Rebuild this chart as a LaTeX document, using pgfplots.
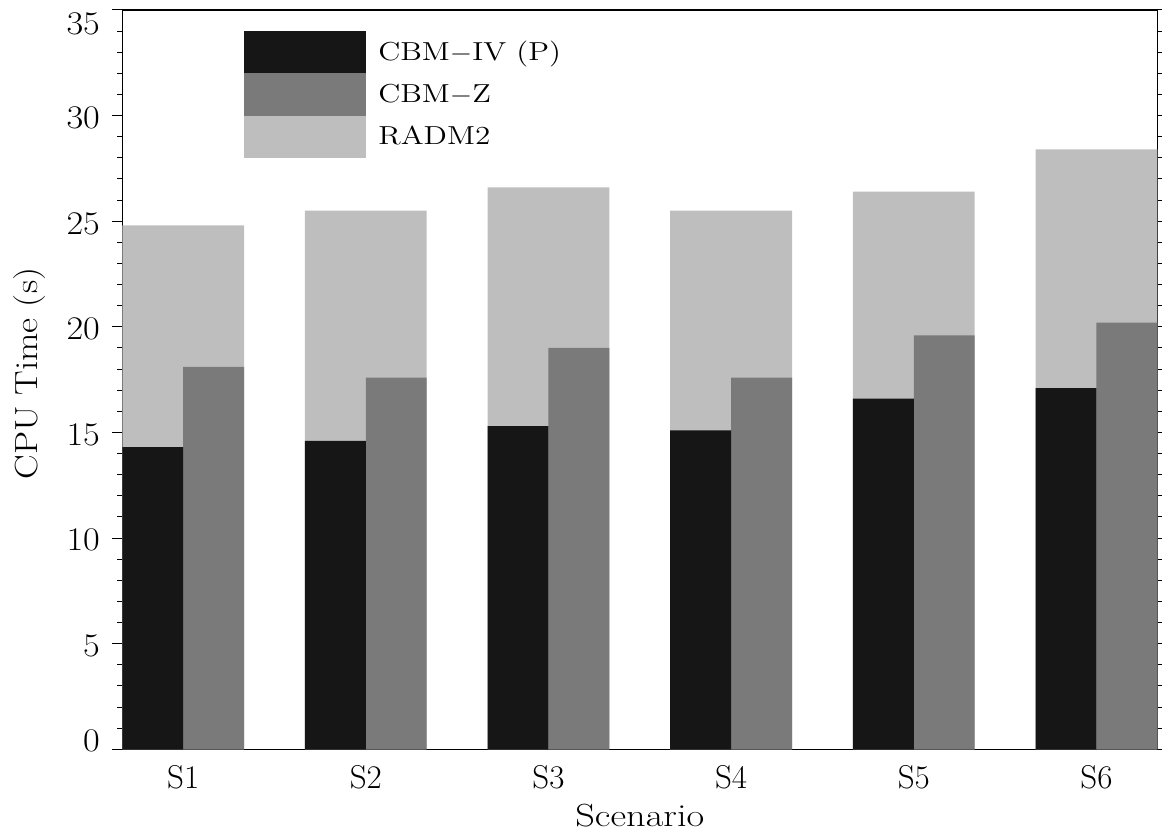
\documentclass[border=0pt]{standalone}
\usepackage{pgfplots}
\pgfplotsset{compat=1.18}

\definecolor{cbmiv}{HTML}{161616}
\definecolor{cbmz}{HTML}{7A7A7A}
\definecolor{radm}{HTML}{BEBEBE}

% horizontally widened text
\newcommand\hs[2][1.1]{\scalebox{#1}[1]{#2}}
\newcommand\tk[2][0pt]{\raisebox{#1}{\hs{#2}}}

\begin{document}
\begin{tikzpicture}
\begin{axis}[
  name=ax,
  scale only axis,
  width=517.5pt, height=369.65pt,
  xmin=0.6667, xmax=6.3333,
  ymin=0, ymax=35,
  axis line style={line width=0.6pt},
  every tick/.style={line width=0.5pt, black},
  tick align=outside,
  major tick length=5pt,
  minor tick length=2.5pt,
  xtick={1,...,6},
  xticklabels={S1,S2,S3,S4,S5,S6},
  x tick style={draw=none},
  xticklabel style={font=\fontsize{16.5}{19}\selectfont, anchor=north, inner sep=0pt, yshift=-2.8pt},
  ytick={0,5,...,35},
  yticklabels={\tk[5.5pt]{0},\tk{5},\tk{10},\tk{15},\tk{20},\tk{25},\tk{30},\tk[-5.75pt]{35}},
  minor y tick num=4,
  yticklabel style={font=\fontsize{16.5}{19}\selectfont, anchor=base east, inner sep=0pt, xshift=-6pt, yshift=-6.4pt},
  xlabel={\hs[1.2]{Scenario}},
  xlabel style={font=\fontsize{16}{19}\selectfont, at={(axis description cs:0.5,0)}, anchor=north, inner sep=0pt, yshift=-27pt},
  ylabel={\hs[1.15]{CPU Time (s)}},
  ylabel style={font=\fontsize{16}{19}\selectfont, at={(axis description cs:-0.0821,0.3643)}, anchor=base west, inner sep=0pt},
  reverse legend,
  legend cell align=left,
  legend style={at={(axis description cs:0.11787,0.97158)}, anchor=north west,
    draw=none, fill=none, inner sep=0pt, outer sep=0pt, row sep=0pt, column sep=4pt,
    font=\fontsize{13}{15}\selectfont, nodes={inner sep=2pt}},
]
% RADM2 spans the whole group, drawn first
\addplot[ybar, bar width=0.6667, bar shift=0, fill=radm, draw=none,
  legend image code/.code={\fill[radm] (0pt,-10.6pt) rectangle (61pt,10.6pt);}]
  coordinates {(1,24.8) (2,25.5) (3,26.6) (4,25.5) (5,26.4) (6,28.4)};
\addlegendentry{\hs[1.2]{RADM2}}
% CBM-Z on the right half
\addplot[ybar, bar width=0.3333, bar shift=0.16667, fill=cbmz, draw=none,
  legend image code/.code={\fill[cbmz] (0pt,-10.6pt) rectangle (61pt,10.6pt);}]
  coordinates {(1,18.1) (2,17.6) (3,19.0) (4,17.6) (5,19.6) (6,20.2)};
\addlegendentry{\hs[1.2]{CBM$-$Z}}
% CBM-IV (P) on the left half
\addplot[ybar, bar width=0.3333, bar shift=-0.16667, fill=cbmiv, draw=none,
  legend image code/.code={\fill[cbmiv] (0pt,-10.6pt) rectangle (61pt,10.6pt);}]
  coordinates {(1,14.3) (2,14.6) (3,15.3) (4,15.1) (5,16.6) (6,17.1)};
\addlegendentry{\hs[1.2]{CBM$-$IV (P)}}
\end{axis}
\pgfresetboundingbox
\useasboundingbox ([xshift=-61.15pt,yshift=-41.85pt]ax.south west) rectangle ([xshift=2.35pt,yshift=5pt]ax.north east);
\end{tikzpicture}
\end{document}
